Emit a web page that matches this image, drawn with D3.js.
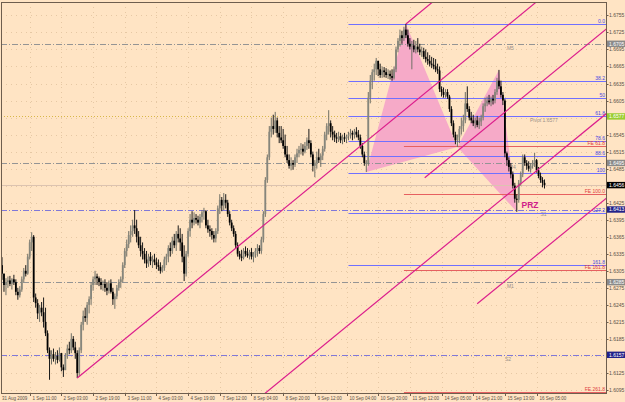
<!DOCTYPE html>
<html>
<head>
<meta charset="utf-8">
<script src="https://cdn.jsdelivr.net/npm/d3@7"></script>
<style>
  body { margin: 0; background: #ffe4c4; }
  svg { display: block; font-family: "Liberation Sans", Arial, sans-serif; }
</style>
</head>
<body>
<svg id="chart" width="625" height="402"></svg>
<script>
// GBPUSD H1, prices stored as pips above 1.6000
var highPips = [
  329,300,292,295,296,292,298,290,275,278, 295,310,315,335,360,373,368,265,255,245,
  250,258,240,200,170,165,168,162,165,170, 160,140,160,175,180,195,190,180,165,170,
  215,235,240,250,260,285,295,305,300,295, 292,288,290,285,288,290,275,265,280,290,
  295,320,345,360,375,385,395,412,395,375, 365,355,345,340,335,338,332,335,328,325,
  320,315,330,335,350,355,365,370,375,385, 380,370,350,340,380,405,410,408,405,402,
  405,412,416,412,395,385,380,375,380,420, 440,435,442,440,430,410,395,385,375,355,
  340,342,345,348,345,342,345,338,345,352, 350,365,410,470,510,560,575,580,585,575,
  560,560,555,545,525,510,505,500,510,520, 525,530,528,532,540,555,535,515,500,515,
  520,512,525,550,565,588,570,560,552,548, 550,548,545,548,545,550,555,552,555,558,
  553,545,530,515,500,620,650,660,670,680, 673,670,665,664,662,660,658,660,665,700,
  715,730,728,735,740,730,715,710,712,710, 715,705,700,698,695,690,685,682,680,678,
  670,665,630,628,625,625,615,595,570,550, 545,560,575,580,620,630,595,585,580,575,
  578,575,580,600,610,612,615,612,615,625, 645,659,640,620,608,515,505,495,480,460,
  440,465,480,510,510,500,498,495,500,513, 502,488,478,470,466
];
var lowPips = [
  289,268,262,275,278,272,280,262,254,258, 268,285,295,298,325,340,250,240,220,215,
  225,205,190,160,113,140,145,140,142,145, 128,118,130,150,158,160,165,150,116,120,
  160,200,215,210,230,245,270,280,280,278, 272,270,268,262,265,265,245,238,255,270,
  275,285,310,330,345,355,365,370,355,345, 330,325,318,310,312,315,310,315,308,305,
  300,302,305,315,320,330,335,345,340,355, 340,320,287,295,330,365,380,385,388,385,
  380,390,395,380,372,365,360,355,355,370, 405,410,412,415,400,385,375,365,345,330,
  325,322,325,330,328,325,325,320,328,330, 335,335,355,400,460,500,540,545,548,540,
  530,530,520,505,495,485,482,483,488,495, 505,510,508,512,518,520,505,480,470,485,
  495,488,500,515,535,545,540,535,532,530, 532,530,528,532,530,535,538,535,538,540,
  535,520,505,490,479,490,600,625,640,650, 648,645,645,646,645,643,642,640,642,655,
  690,700,705,710,715,700,695,660,690,688, 690,685,682,678,672,668,665,662,660,655,
  652,620,612,610,610,608,585,560,540,528, 523,530,545,550,565,585,570,565,560,556,
  558,555,560,570,585,595,598,595,598,600, 615,625,610,597,505,490,480,468,450,425,
  409,425,455,470,490,483,480,478,485,488, 478,468,460,452,450
];
var closePips = [
  300,280,285,288,282,290,285,268,262,272, 290,305,300,330,355,365,258,248,230,240,
  232,215,195,165,150,158,150,155,148,160, 135,130,155,168,165,185,170,160,125,165,
  210,225,222,245,255,280,290,295,292,285, 280,282,275,270,283,268,255,260,275,285,
  290,315,340,352,368,375,385,380,365,350, 340,335,325,318,330,322,325,320,315,312,
  305,310,325,330,345,340,358,350,370,362, 355,330,300,335,375,395,390,398,395,390,
  400,408,410,385,378,375,368,362,375,415, 430,420,430,425,405,390,380,370,350,335,
  330,328,340,335,332,338,330,335,340,345, 340,360,405,465,505,550,560,555,570,548,
  540,535,525,510,500,490,495,492,505,512, 518,520,515,525,535,530,510,490,495,505,
  500,508,520,545,560,565,550,545,540,538, 542,535,540,538,542,545,548,545,550,545,
  540,525,510,495,495,610,640,655,660,675, 660,650,658,655,650,652,648,645,660,695,
  710,720,715,730,720,705,700,702,695,700, 695,690,692,682,678,675,670,668,665,660,
  658,625,620,615,620,612,590,565,545,535, 540,555,560,570,600,590,575,570,565,570,
  562,568,575,595,600,605,602,608,605,620, 640,630,615,605,512,500,488,475,455,432,
  430,460,475,505,495,490,485,490,495,500, 482,472,465,460,456
];
var firstOpenPips = 315;

var timeTickBars = [0,14,30,46,62,78,94,110,126,142,158,174,190,206,222,238,254,270];
var timeLabels = ["31 Aug 2009","1 Sep 11:00","2 Sep 03:00","2 Sep 19:00","3 Sep 11:00",
  "4 Sep 03:00","4 Sep 19:00","7 Sep 12:00","8 Sep 04:00","8 Sep 20:00","9 Sep 12:00",
  "10 Sep 04:00","10 Sep 20:00","11 Sep 12:00","14 Sep 05:00","14 Sep 21:00",
  "15 Sep 13:00","16 Sep 05:00"];

var priceTickLabels = ["1.6095","1.6125","1.6155","1.6185","1.6215","1.6245","1.6275",
  "1.6305","1.6335","1.6365","1.6395","1.6425","1.6455","1.6485","1.6515","1.6545",
  "1.6575","1.6605","1.6635","1.6665","1.6695","1.6725","1.6755"];

// fibo retracement X->A
var fibLabels = ["0.0","38.2","50","61.8","78.6","88.6","100","127.2","161.8"];
var fibPrices = [1.6740,1.6640,1.6609,1.6578,1.6534,1.6508,1.6478,1.6407,1.6316];
var fibStartBar = 175;

// fibo expansion
var feLabels = ["FE 61.8","FE 100.0","FE 161.8","FE 261.8"];
var fePrices = [1.6525,1.6440,1.6306,1.6091];
var feStartBar = 203;

// pivot levels
var pivotNames = ["M5","Pivot","M4","S1","M1","S2"];
var pivotPrices = [1.6705,1.6577,1.6495,1.6413,1.6285,1.6157];
var pivotNameBars = [255,null,256,272,255,254];

// XABCD pattern
var patternBars = [184,204,230,251,260];
var patternPrices = [1.6479,1.6740,1.6523,1.6659,1.6409];

// channel lines: [bar0, price0, bar1, price1]
var forkLines = [
  [38, 1.6116, 200, 1.6579],
  [204, 1.6740, 240, 1.6843],
  [213.5, 1.6469, 300, 1.6716],
  [240, 1.6247, 300, 1.6418],
  [130, 1.6081, 300, 1.6567]
];

var lastPrice = 1.6456;

var svg = d3.select("#chart");
var W = 625, H = 402;
var plotL = 1, plotR = 606, plotT = 2, plotB = 393;

var x = d3.scaleLinear().domain([0, 274]).range([2, 544.5]);
var y = d3.scaleLinear().domain([1.6095, 1.6755]).range([390, 15.4]);
function P(v) { return 1.6 + v / 10000; }

svg.append("rect").attr("width", W).attr("height", H).attr("fill", "#ffe4c4");

svg.append("defs").append("clipPath").attr("id", "plot")
  .append("rect").attr("x", plotL).attr("y", plotT)
  .attr("width", plotR - plotL).attr("height", plotB - plotT);

var plot = svg.append("g").attr("clip-path", "url(#plot)");

// dotted grid
plot.selectAll(".hgrid").data(priceTickLabels).enter().append("line")
  .attr("x1", plotL).attr("x2", plotR)
  .attr("y1", function(d) { return Math.round(y(+d)) + 0.5; })
  .attr("y2", function(d) { return Math.round(y(+d)) + 0.5; })
  .attr("stroke", "#e6c8a4").attr("stroke-dasharray", "1,4");
plot.selectAll(".vgrid").data(timeTickBars.slice(1)).enter().append("line")
  .attr("x1", function(d) { return Math.round(x(d)) + 0.5; })
  .attr("x2", function(d) { return Math.round(x(d)) + 0.5; })
  .attr("y1", plotT).attr("y2", plotB)
  .attr("stroke", "#e6c8a4").attr("stroke-dasharray", "1,4");

// pattern triangles
var tri = [[0,1,2],[2,3,4]];
plot.selectAll(".tri").data(tri).enter().append("path")
  .attr("d", function(t) {
    return "M" + t.map(function(k) { return x(patternBars[k]) + "," + y(patternPrices[k]); }).join("L") + "Z";
  })
  .attr("fill", "#f6aac8");

// pivot lines
var pivotStyle = {
  "M5": ["#949494", "6,2,1,2"], "M4": ["#949494", "6,2,1,2"], "M1": ["#949494", "6,2,1,2"],
  "S1": ["#8078d8", "6,2,1,2"], "S2": ["#8078d8", "6,2,1,2"], "Pivot": ["#d8b848", "1,2"]
};
pivotNames.forEach(function(n, k) {
  var yy = Math.round(y(pivotPrices[k])) + 0.5;
  plot.append("line").attr("x1", plotL).attr("x2", plotR).attr("y1", yy).attr("y2", yy)
    .attr("stroke", pivotStyle[n][0]).attr("stroke-dasharray", pivotStyle[n][1]);
  if (pivotNameBars[k] !== null) {
    plot.append("text").attr("x", x(pivotNameBars[k])).attr("y", yy + 5)
      .attr("font-size", 5).attr("fill", "#9a9088").text(n);
  }
});
plot.append("text").attr("x", 530).attr("y", Math.round(y(1.6577)) + 5.5)
  .attr("font-size", 5).attr("fill", "#9a9088").text("Pivot 1.6577");

// current price line
var lp = Math.round(y(lastPrice)) + 0.5;
plot.append("line").attr("x1", plotL).attr("x2", plotR).attr("y1", lp).attr("y2", lp)
  .attr("stroke", "#dcc3b0");

// fibo levels
fibPrices.forEach(function(p, k) {
  var yy = Math.round(y(p)) + 0.5;
  plot.append("line").attr("x1", x(fibStartBar)).attr("x2", plotR).attr("y1", yy).attr("y2", yy)
    .attr("stroke", "#7070ff");
  plot.append("text").attr("x", 605).attr("y", yy - 1.5).attr("text-anchor", "end")
    .attr("font-size", 5).attr("fill", "#4848e0").text(fibLabels[k]);
});
fePrices.forEach(function(p, k) {
  var yy = Math.round(y(p)) + 0.5;
  plot.append("line").attr("x1", x(feStartBar)).attr("x2", plotR).attr("y1", yy).attr("y2", yy)
    .attr("stroke", "#e66060");
  plot.append("text").attr("x", 605).attr("y", yy - 1.5).attr("text-anchor", "end")
    .attr("font-size", 5).attr("fill", "#e04040").text(feLabels[k]);
});

// candles
var bars = closePips.map(function(c, i) {
  var o = i === 0 ? firstOpenPips : closePips[i - 1];
  return {i: i, o: P(o), c: P(c), h: P(Math.max(highPips[i], o, c)), l: P(Math.min(lowPips[i], o, c))};
});
var cg = plot.append("g");
cg.selectAll(".wick").data(bars).enter().append("line")
  .attr("x1", function(d) { return x(d.i); }).attr("x2", function(d) { return x(d.i); })
  .attr("y1", function(d) { return y(d.h); }).attr("y2", function(d) { return y(d.l); })
  .attr("stroke", function(d) { return d.c >= d.o ? "#707066" : "#1a1a1a"; })
  .attr("stroke-width", 1);
cg.selectAll(".body").data(bars).enter().append("rect")
  .attr("x", function(d) { return x(d.i) - 0.9; }).attr("width", 1.8)
  .attr("y", function(d) { return y(Math.max(d.o, d.c)); })
  .attr("height", function(d) { return Math.max(0.8, Math.abs(y(d.o) - y(d.c))); })
  .attr("fill", function(d) { return d.c >= d.o ? "#86867c" : "#000"; });

// channel lines
forkLines.forEach(function(f) {
  var s = (f[3] - f[1]) / (f[2] - f[0]);
  plot.append("line")
    .attr("x1", x(f[0])).attr("y1", y(f[1]))
    .attr("x2", x(330)).attr("y2", y(f[1] + s * (330 - f[0])))
    .attr("stroke", "#dc1e8c").attr("stroke-width", 1.2);
});

plot.append("text").attr("x", 521.5).attr("y", 208).attr("font-size", 8.5)
  .attr("font-weight", "bold").attr("fill", "#d01e8a").text("PRZ");

// frame
svg.append("rect").attr("x", plotL + 0.5).attr("y", plotT + 0.5)
  .attr("width", plotR - plotL).attr("height", plotB - plotT)
  .attr("fill", "none").attr("stroke", "#6e5e4e");

// price axis
var boxPrices = pivotPrices.concat([lastPrice]);
var ya = svg.append("g");
priceTickLabels.forEach(function(t) {
  var yy = Math.round(y(+t)) + 0.5;
  ya.append("line").attr("x1", plotR).attr("x2", plotR + 2.5).attr("y1", yy).attr("y2", yy)
    .attr("stroke", "#6e5e4e");
  var hidden = boxPrices.some(function(b) { return Math.abs(y(b) - y(+t)) < 4.5; });
  if (!hidden) {
    ya.append("text").attr("x", plotR + 3).attr("y", yy + 1.8).attr("font-size", 5)
      .attr("fill", "#5a5048").text(t);
  }
});

// price boxes
var boxColor = {"M5": "#8a8a8a", "M4": "#8a8a8a", "M1": "#8a8a8a",
  "S1": "#22228a", "S2": "#22228a", "Pivot": "#9acd32"};
function priceBox(p, fill) {
  var yy = y(p);
  ya.append("rect").attr("x", plotR + 1).attr("y", yy - 3.2).attr("width", 18).attr("height", 6.4)
    .attr("fill", fill);
  ya.append("text").attr("x", plotR + 3).attr("y", yy + 1.8).attr("font-size", 5)
    .attr("fill", "#fff").text(p.toFixed(4));
}
pivotNames.forEach(function(n, k) { priceBox(pivotPrices[k], boxColor[n]); });
priceBox(lastPrice, "#000");

// time axis
var xa = svg.append("g");
timeTickBars.forEach(function(b, k) {
  var xx = Math.round(x(b)) + 0.5;
  if (k > 0) {
    xa.append("line").attr("x1", xx).attr("x2", xx).attr("y1", plotB).attr("y2", plotB + 3)
      .attr("stroke", "#6e5e4e");
  }
  xa.append("text").attr("x", k === 0 ? 2 : xx + 2).attr("y", 399.5).attr("font-size", 4.5)
    .attr("fill", "#5a5048").text(timeLabels[k]);
});
</script>
</body>
</html>
